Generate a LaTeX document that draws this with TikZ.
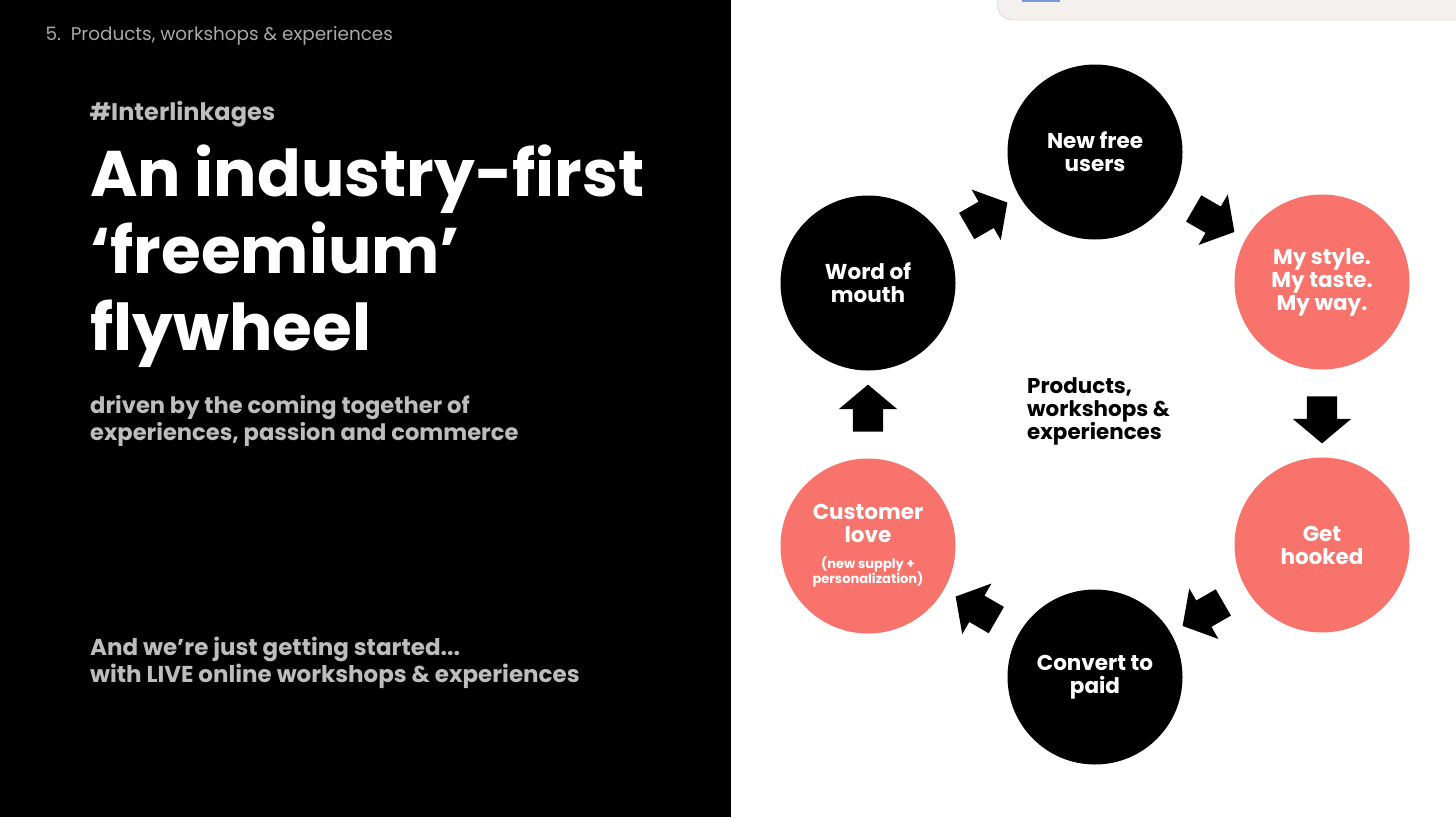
\documentclass[tikz,border=0pt]{standalone}
\usepackage{fontspec}
\setmainfont{Poppins}
\usetikzlibrary{shapes.arrows,calc}
\definecolor{slidegrey}{HTML}{BDBDBD}
\definecolor{sectgrey}{HTML}{A9A9A9}
\definecolor{flysalmon}{HTML}{F8736C}
\definecolor{winfill}{HTML}{F4F0ED}
\definecolor{winedge}{HTML}{C9C6C3}
\definecolor{winblue}{HTML}{7C97D9}
\newcommand{\smallnote}{\fontsize{13}{15}\selectfont}
\begin{document}
\begin{tikzpicture}[x=1pt,y=-1pt,
  wheel/.style={circle,minimum size=175pt,inner sep=0pt,align=center,text=white,font=\bfseries\fontsize{21.5}{23}\selectfont},
  darkstep/.style={wheel,fill=black},
  warmstep/.style={wheel,fill=flysalmon},
  blockarrow/.style={single arrow,fill=black,minimum height=47pt,single arrow head extend=14pt,single arrow tip angle=100,inner xsep=0pt,inner ysep=15pt}]
\useasboundingbox (0,0) rectangle (1456,817);
\fill[white] (0,0) rectangle (1456,817);
\fill[black] (0,0) rectangle (731,817);
\filldraw[fill=winfill,draw=winedge,rounded corners=16pt] (997,-30) rectangle (1480,20);
\fill[winblue] (1022,0) rectangle (1060,1.5);
\node[anchor=west,text=sectgrey,font=\fontsize{18.4}{21}\selectfont] (sect) at (42,36) {5.\ \ Products, workshops \& experiences};
\node[anchor=west,text=slidegrey,font=\bfseries\fontsize{24}{28}\selectfont] (tag) at (86,114) {\#Interlinkages};
\node[anchor=west,text=white,align=left,inner sep=0pt,font=\bfseries\fontsize{64.5}{77}\selectfont] (title) at (90,256) {An industry-first\\‘freemium’\\flywheel};
\node[anchor=west,text=slidegrey,align=left,inner sep=0pt,font=\bfseries\fontsize{22.6}{27}\selectfont] (sub) at (90,421) {driven by the coming together of\\experiences, passion and commerce};
\node[anchor=west,text=slidegrey,align=left,inner sep=0pt,font=\bfseries\fontsize{23}{26.5}\selectfont] (start) at (90,663) {And we’re just getting started...\\with LIVE online workshops \& experiences};
\node[darkstep] (users) at (1095,152) {New free\\users};
\node[warmstep] (style) at (1322,282) {My style.\\My taste.\\My way.};
\node[warmstep] (hooked) at (1322,545) {Get\\hooked};
\node[darkstep] (paid) at (1095,677) {Convert to\\paid};
\node[warmstep] (love) at (868,546) {Customer\\love\\[3pt]\smallnote(new supply +\\[-8pt]\smallnote personalization)};
\node[darkstep] (mouth) at (868,283) {Word of\\mouth};
\node[anchor=west,align=left,inner sep=0pt,font=\bfseries\fontsize{21.4}{23}\selectfont] (hub) at (1027,411) {Products,\\workshops \&\\experiences};
\node[blockarrow,rotate=30] (mouthusers) at ($(mouth)!0.5!(users)$) {};
\node[blockarrow,rotate=-30] (usersstyle) at ($(users)!0.5!(style)$) {};
\node[blockarrow,rotate=-90] (stylehooked) at ($(style)!0.5!(hooked)$) {};
\node[blockarrow,rotate=-150] (hookedpaid) at ($(hooked)!0.5!(paid)$) {};
\node[blockarrow,rotate=150] (paidlove) at ($(paid)!0.5!(love)$) {};
\node[blockarrow,rotate=90] (lovemouth) at ($(love)!0.5!(mouth)$) {};
\end{tikzpicture}
\end{document}
